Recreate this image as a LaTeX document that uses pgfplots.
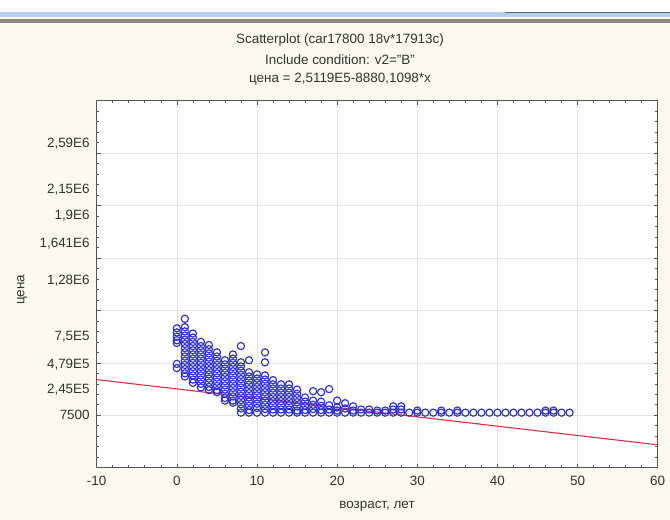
\documentclass[border=0pt]{standalone}
\usepackage{fontspec}
\setmainfont{Liberation Sans}
\usepackage{pgfplots}
\pgfplotsset{compat=1.18}

\definecolor{cream}{RGB}{252,250,238}
\definecolor{ptblue}{RGB}{45,45,228}
\definecolor{fitred}{RGB}{232,45,70}
\definecolor{axgray}{RGB}{85,85,85}
\definecolor{gridgray}{RGB}{228,228,228}
\definecolor{barblue}{RGB}{180,208,236}
\definecolor{bargray}{RGB}{138,138,130}

% price by age
\pgfplotstableread[row sep=\\]{
x y\\
0 830000\\ 0 790000\\ 0 750000\\ 0 715000\\ 0 690000\\ 0 490000\\ 0 450000\\
1 920000\\ 1 840000\\ 1 800000\\ 1 760000\\ 1 720000\\ 1 680000\\ 1 640000\\ 1 600000\\ 1 560000\\ 1 520000\\ 1 480000\\ 1 440000\\ 1 400000\\ 1 370000\\
2 780000\\ 2 740000\\ 2 700000\\ 2 660000\\ 2 620000\\ 2 580000\\ 2 540000\\ 2 500000\\ 2 460000\\ 2 420000\\ 2 380000\\ 2 340000\\ 2 310000\\
3 700000\\ 3 660000\\ 3 620000\\ 3 580000\\ 3 540000\\ 3 500000\\ 3 460000\\ 3 420000\\ 3 380000\\ 3 340000\\ 3 300000\\ 3 265000\\
4 670000\\ 4 630000\\ 4 590000\\ 4 550000\\ 4 510000\\ 4 470000\\ 4 430000\\ 4 390000\\ 4 350000\\ 4 310000\\ 4 270000\\ 4 240000\\
5 600000\\ 5 560000\\ 5 520000\\ 5 480000\\ 5 440000\\ 5 400000\\ 5 360000\\ 5 320000\\ 5 280000\\ 5 240000\\ 5 220000\\
6 525000\\ 6 485000\\ 6 445000\\ 6 405000\\ 6 365000\\ 6 325000\\ 6 285000\\ 6 245000\\ 6 205000\\ 6 165000\\ 6 140000\\
7 580000\\ 7 540000\\ 7 500000\\ 7 460000\\ 7 420000\\ 7 380000\\ 7 340000\\ 7 300000\\ 7 260000\\ 7 220000\\ 7 180000\\ 7 140000\\ 7 120000\\
8 660000\\ 8 505000\\ 8 465000\\ 8 425000\\ 8 385000\\ 8 345000\\ 8 305000\\ 8 265000\\ 8 225000\\ 8 185000\\ 8 145000\\ 8 105000\\ 8 65000\\ 8 25000\\
9 525000\\ 9 410000\\ 9 370000\\ 9 330000\\ 9 290000\\ 9 250000\\ 9 210000\\ 9 170000\\ 9 130000\\ 9 90000\\ 9 50000\\ 9 25000\\
10 390000\\ 10 350000\\ 10 310000\\ 10 270000\\ 10 230000\\ 10 190000\\ 10 150000\\ 10 110000\\ 10 70000\\ 10 25000\\
11 600000\\ 11 505000\\ 11 380000\\ 11 340000\\ 11 300000\\ 11 260000\\ 11 220000\\ 11 180000\\ 11 140000\\ 11 100000\\ 11 60000\\ 11 25000\\
12 335000\\ 12 295000\\ 12 255000\\ 12 215000\\ 12 175000\\ 12 135000\\ 12 95000\\ 12 55000\\ 12 25000\\
13 295000\\ 13 255000\\ 13 215000\\ 13 175000\\ 13 135000\\ 13 95000\\ 13 55000\\ 13 25000\\
14 295000\\ 14 255000\\ 14 215000\\ 14 175000\\ 14 135000\\ 14 95000\\ 14 55000\\ 14 25000\\
15 245000\\ 15 205000\\ 15 165000\\ 15 125000\\ 15 85000\\ 15 45000\\ 15 25000\\
16 170000\\ 16 130000\\ 16 90000\\ 16 50000\\ 16 25000\\
17 230000\\ 17 140000\\ 17 100000\\ 17 60000\\ 17 25000\\
18 220000\\ 18 130000\\ 18 90000\\ 18 50000\\ 18 25000\\
19 250000\\ 19 95000\\ 19 55000\\ 19 25000\\
20 140000\\ 20 75000\\ 20 45000\\ 20 25000\\
21 115000\\ 21 65000\\ 21 25000\\
22 85000\\ 22 45000\\ 22 25000\\
23 55000\\ 23 25000\\ 24 55000\\ 24 25000\\ 25 45000\\ 25 25000\\ 26 45000\\ 26 25000\\
27 85000\\ 27 55000\\ 27 25000\\ 28 85000\\ 28 55000\\ 28 25000\\
29 25000\\ 30 45000\\ 30 25000\\ 31 25000\\ 32 25000\\ 33 45000\\ 33 25000\\ 34 25000\\
35 45000\\ 35 25000\\ 36 25000\\ 37 25000\\ 38 25000\\ 39 25000\\ 40 25000\\ 41 25000\\
42 25000\\ 43 25000\\ 44 25000\\ 45 25000\\ 46 45000\\ 46 25000\\ 47 45000\\ 47 25000\\
48 25000\\ 49 25000\\
}\cars

\begin{document}
\begin{tikzpicture}
\fill[cream] (0bp,0bp) rectangle (670bp,520bp);
\useasboundingbox (0bp,0bp) rectangle (670bp,520bp);
% window frame strips at the top of the screenshot
\fill[white] (0bp,508bp) rectangle (670bp,520bp);
\fill[barblue] (0bp,503bp) rectangle (670bp,508bp);
\fill[bargray] (0bp,497bp) rectangle (670bp,501bp);
\fill[black!60] (505bp,507bp) rectangle (670bp,508bp);

\begin{axis}[
    at={(96.7bp,52.3bp)}, anchor=south west,
    scale only axis, width=561bp, height=367bp,
    xmin=-10, xmax=60, ymin=-500000, ymax=3000000,
    xtick={-10,0,10,20,30,40,50,60}, minor x tick num=4,
    ytick={-500000,0,500000,1000000,1500000,2000000,2500000,3000000},
    yticklabels={}, minor y tick num=4,
    scaled y ticks=false,
    extra y ticks={7500,245000,479000,750000,1280000,1641000,1900000,2150000,2590000},
    extra y tick labels={{7500},{2,45E5},{4,79E5},{7,5E5},{1,28E6},{1,641E6},{1,9E6},{2,15E6},{2,59E6}},
    extra y tick style={grid=none, major tick length=0pt},
    grid=major, major grid style={gridgray, line width=0.6bp},
    tick align=inside,
    major tick length=4bp, minor tick length=2.5bp,
    every tick/.style={axgray, line width=0.6bp},
    axis line style={axgray, line width=0.9bp},
    axis background/.style={fill=white},
    tick label style={font=\fontsize{13.5}{15}\selectfont, text=black!80},
    xticklabel style={yshift=-5bp},
    yticklabel style={xshift=-3.5bp},
    /pgf/number format/assume math mode=true,
]
\addplot[only marks, mark=o, mark size=3.6bp, ptblue, line width=1.15bp] table[x=x, y=y] {\cars};
% fitted line: цена = 2,5119E5 - 8880,1098*x
\addplot[fitred, line width=1.1bp] coordinates {(-10,339991) (60,-281617)};
\end{axis}

\begin{scope}[font=\fontsize{13.5}{15}\selectfont, text=black!80]
\node at (340bp,480bp) {Scatterplot (car17800 18v*17913c)};
\node at (340bp,460bp) {Include condition: v2="B"};
\node at (340bp,441bp) {цена = 2,5119E5-8880,1098*x};
\node[rotate=90] at (22bp,230bp) {цена};
\node at (377bp,14bp) {возраст, лет};
\end{scope}
\end{tikzpicture}
\end{document}
